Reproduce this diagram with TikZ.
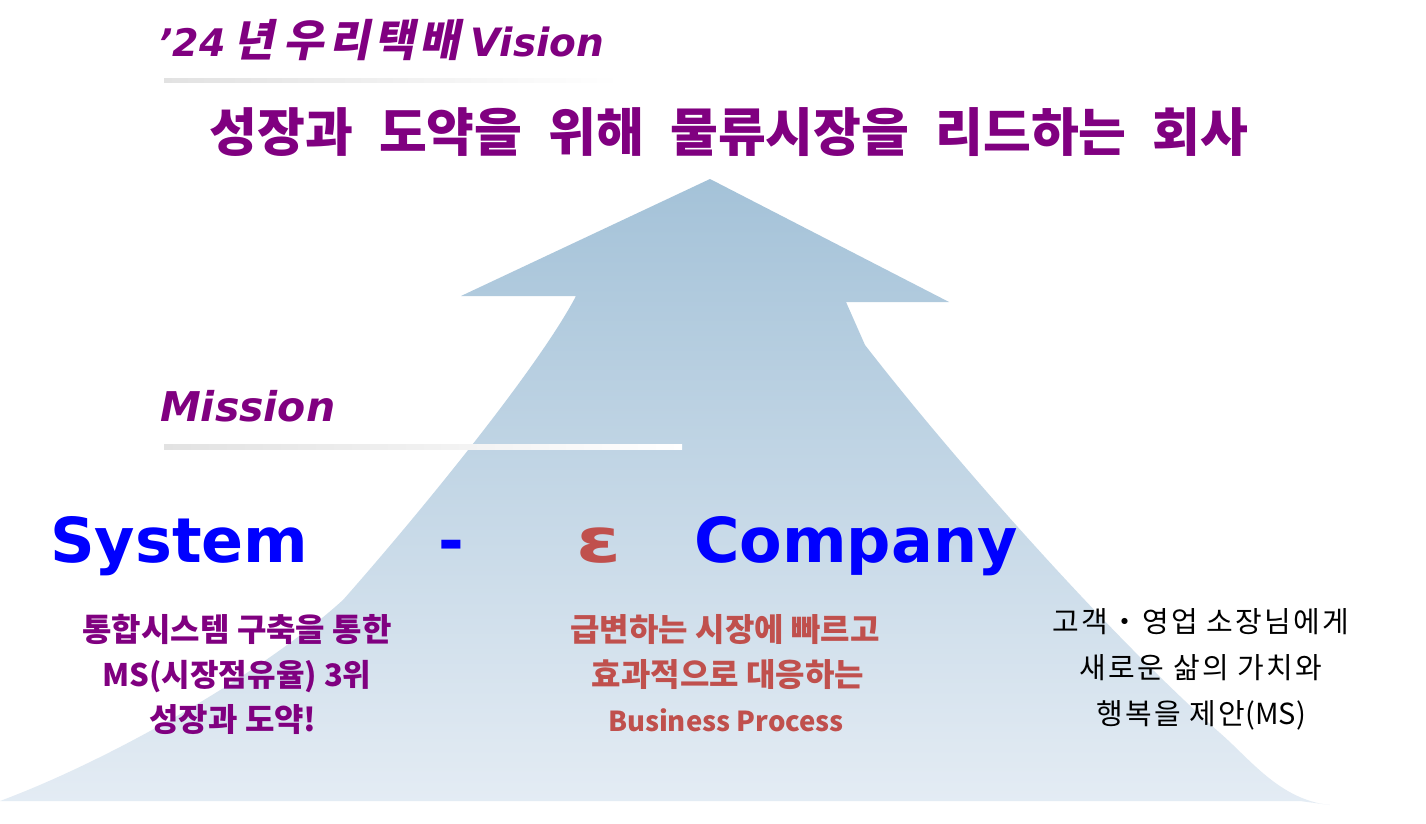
\documentclass[tikz,border=0pt]{standalone}
\usepackage{fontspec}
\newfontfamily\kr{Noto Sans CJK KR}
\newfontfamily\krsl{Noto Sans CJK KR}[FakeSlant=0.2,LetterSpace=11]
\newfontfamily\krr{Noto Sans CJK KR}[LetterSpace=8]
\newfontfamily\dv{DejaVu Sans}
\newcommand\tgap{\hspace{26pt}}
\definecolor{vio}{HTML}{800080}
\definecolor{blu}{HTML}{0000FF}
\definecolor{rd}{HTML}{C0504D}
\definecolor{atop}{HTML}{A4C2D8}
\definecolor{abot}{HTML}{E4ECF4}
\definecolor{lg}{HTML}{E2E2E2}
\tikzset{
  hdr/.style={anchor=base west,inner sep=0pt,text=vio},
  big/.style={anchor=base west,inner sep=0pt,font=\dv\bfseries\fontsize{62}{70}\selectfont},
  lline/.style={anchor=base,inner sep=0pt,text=vio,font=\kr\bfseries\fontsize{32}{38}\selectfont},
  mline/.style={anchor=base,inner sep=0pt,text=rd,font=\kr\bfseries\fontsize{32}{38}\selectfont},
  rline/.style={anchor=base,inner sep=0pt,text=black,font=\krr\fontsize{29}{34}\selectfont},
}
\begin{document}
\begin{tikzpicture}[x=1pt,y=-1pt]
\fill[white] (0,0) rectangle (1426,824);
\useasboundingbox (0,0) rectangle (1426,824);
% big arrow
\shade[top color=atop,bottom color=abot]
  (710,179) -- (949,302) -- (846,302) -- (865,345)
  .. controls (955,461) and (1110,636) .. (1220,733)
  .. controls (1250,759) and (1280,800) .. (1330,805)
  -- (1300,801) -- (0,801)
  .. controls (110,760) and (260,675) .. (343,600)
  .. controls (425,507) and (540,365) .. (576,296)
  -- (461,296) -- cycle;
% rules
\shade[left color=lg,right color=white] (164,79) rectangle (620,83);
\shade[left color=lg,middle color=white,right color=white] (164,444) rectangle (682,449);
% headings
\node[hdr] (vision) at (158,57) {{\dv\bfseries\itshape\fontsize{38}{44}\selectfont ’24}\hspace{8pt}{\krsl\bfseries\fontsize{44}{50}\selectfont 년\hspace{10pt}우리택배}\hspace{10pt}{\dv\bfseries\itshape\fontsize{39}{46}\selectfont Vision}};
\node[anchor=base,inner sep=0pt,text=vio,font=\kr\bfseries\fontsize{52}{60}\selectfont] (title) at (729,151) {성장과\tgap 도약을\tgap 위해\tgap 물류시장을\tgap 리드하는\tgap 회사};
\node[hdr,font=\dv\bfseries\itshape\fontsize{41}{46}\selectfont] (mission) at (160,421) {Mission};
% mission words
\node[big,text=blu] (system) at (50,562) {System};
\node[big,text=blu] (dash) at (438,562) {-};
\node[big,text=rd] (eps) at (576,562) {\scalebox{1.3}[1]{ε}};
\node[big,text=blu] (company) at (694,562) {Company};
% left block
\node[lline] (l1) at (237,641) {통합시스템 구축을 통한};
\node[lline,font=\kr\bfseries\fontsize{31}{38}\selectfont] (l2) at (237,686) {MS(시장점유율) 3위};
\node[lline] (l3) at (233,731) {성장과 도약!};
% middle block
\node[mline] (m1) at (725,641) {급변하는 시장에 빠르고};
\node[mline] (m2) at (728,686) {효과적으로 대응하는};
\node[mline,font=\kr\bfseries\fontsize{27.5}{34}\selectfont] (m3) at (726,731) {Business Process};
% right block
\node[rline] (r1) at (1201,632) {고객・영업 소장님에게};
\node[rline] (r2) at (1201,678) {새로운 삶의 가치와};
\node[rline] (r3) at (1201,724) {행복을 제안{\kr(MS)}};
\end{tikzpicture}
\end{document}
